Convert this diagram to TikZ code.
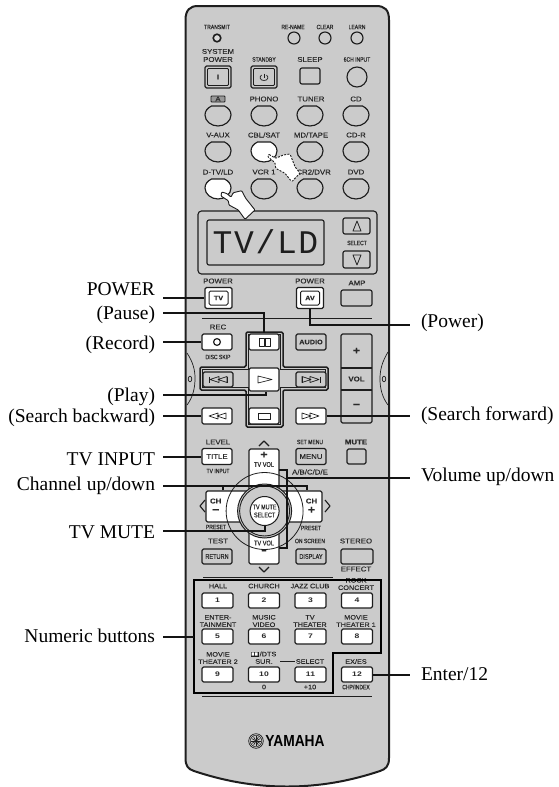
\documentclass[tikz,border=0pt]{standalone}
\usepackage{fontspec}
\setmainfont{Liberation Serif}
\newfontfamily\fw[FakeStretch=1.12,FakeBold=0.25]{Liberation Sans}
\newfontfamily\fc[FakeStretch=0.8,FakeBold=0.25]{Liberation Sans}
\newfontfamily\fd[FakeStretch=1.3]{Liberation Sans}
\newfontfamily\fy[FakeStretch=0.86]{Liberation Sans}
\newfontfamily\fm[LetterSpace=5]{Liberation Mono}
\definecolor{bodyc}{HTML}{CBCBCB}
\definecolor{linec}{HTML}{1E1E1E}
\definecolor{txt}{HTML}{2A2A2A}
\newcounter{nd}
\tikzset{
  x=1pt,y=-1pt,
  ln/.style={draw=linec,line width=1.15pt,line join=round},
  lead/.style={draw=black!92,line width=2pt},
  icn/.style={draw=linec,line width=.7pt,line join=round},
  labw/.style={inner sep=0pt,text=txt,font=\fw\fontsize{7}{7.5}\selectfont,align=center},
  labn/.style={inner sep=0pt,text=txt,font=\fw\fontsize{6.5}{7.4}\selectfont,align=center},
  labc/.style={inner sep=0pt,text=txt,font=\fc\fontsize{6.3}{7}\selectfont,align=center},
  btn/.style={ln,fill=white,rounded corners=1.5pt,inner sep=0pt,text=txt,align=center,font=\fw\fontsize{7}{7.5}\selectfont},
  gbtn/.style={btn,fill=bodyc},
  cbtn/.style={btn,font=\fc\fontsize{7}{8}\selectfont},
  numb/.style={btn,minimum width=31pt,minimum height=15pt,font=\fd\bfseries\fontsize{6.6}{7}\selectfont},
  capt/.style={text=black,font=\fontsize{19.5}{20}\selectfont,text height=13pt,text depth=4pt,inner ysep=0pt},
  captl/.style={capt,anchor=base east,inner xsep=8pt,outer sep=0pt},
  captr/.style={capt,anchor=base west,inner xsep=11pt,outer sep=0pt},
}
\newcommand\LW[3]{\stepcounter{nd}\node[labw] (nw\thend) at (#1,#2) {#3};}
\newcommand\LN[3]{\stepcounter{nd}\node[labn] (nn\thend) at (#1,#2) {#3};}
\newcommand\LC[3]{\stepcounter{nd}\node[labc] (nc\thend) at (#1,#2) {#3};}
\newcommand\CUPB[3]{\draw[ln,fill=#3] (#1-6.5,#2) -- (#1+6.5,#2) .. controls (#1+10.5,#2+2) and (#1+13,#2+5) .. (#1+13,#2+9) .. controls (#1+13,#2+15) and (#1+7,#2+20) .. (#1,#2+20) .. controls (#1-7,#2+20) and (#1-13,#2+15) .. (#1-13,#2+9) .. controls (#1-13,#2+5) and (#1-10.5,#2+2) .. cycle;}
\newcommand\TL[2]{\draw[icn] (#1,#2) -- (#1+9,#2-3) -- (#1+9,#2+3) -- cycle;}
\newcommand\TR[2]{\draw[icn] (#1+9,#2) -- (#1,#2-3) -- (#1,#2+3) -- cycle;}
\begin{document}
\begin{tikzpicture}
\useasboundingbox (0,0) rectangle (559,787);
% body
\draw[draw=linec,line width=2pt,fill=bodyc] (185.5,20) .. controls (185.5,10) and (190,6) .. (198,6) -- (376,6) .. controls (385,6) and (389,10) .. (389,20) -- (389,758) .. controls (389,766) and (386,769) .. (380,771) .. controls (350,781) and (320,786.5) .. (287,786.5) .. controls (254,786.5) and (224,781) .. (194,771) .. controls (188,769) and (185.5,766) .. (185.5,758) -- cycle;
% side grips
\draw[draw=linec,line width=.7pt] (187,353) .. controls (193,362) and (195,370) .. (195,378) .. controls (195,388) and (193,397) .. (187,405);
\draw[draw=linec,line width=.7pt] (388,352) .. controls (382,362) and (380,370) .. (380,379) .. controls (380,388) and (382,397) .. (388,405);
\draw[icn] (190,379) ellipse (1.8pt and 2.8pt);
\draw[icn] (384,379) ellipse (1.8pt and 2.8pt);
% top row
\LC{217}{27}{TRANSMIT}\LC{293}{27}{RE-NAME}\LC{325}{27}{CLEAR}\LC{357}{27}{LEARN}
\draw[draw=linec,line width=1.6pt,fill=bodyc!70] (217,38) circle (3.8pt);
\foreach \x in {294,325,357} \draw[ln] (\x,38) circle (6pt);
% power row
\LW{218}{51.5}{SYSTEM}\LW{218}{59.5}{POWER}\LC{264}{59.5}{STANDBY}\LW{310}{59.5}{SLEEP}\LC{357}{59.5}{6CH INPUT}
\draw[ln,rounded corners=1.5pt] (205,66) rectangle (231,88);
\draw[ln,line width=.8pt,rounded corners=1pt] (207.5,68.5) rectangle (228.5,85.5);
\LW{218}{77}{\bfseries I}
\draw[ln,rounded corners=1.5pt] (251,66) rectangle (277,88);
\draw[ln,line width=.8pt,rounded corners=1pt] (253.5,68.5) rectangle (274.5,85.5);
\draw[icn] (261.5,75) .. controls (259,77) and (260,80.5) .. (264,80.5) .. controls (268,80.5) and (269,77) .. (266.5,75);
\draw[icn] (264,73.5) -- (264,77.5);
\draw[ln,rounded corners=2pt] (300,68) rectangle (320,84);
\draw[ln] (357,77) circle (10pt);
% input selector rows
\draw[ln,line width=.8pt,rounded corners=.8pt,fill=bodyc!75!black] (211,96) rectangle (225,102);
\LW{218}{99}{A}\LW{264}{99}{PHONO}\LW{311}{99}{TUNER}\LW{356}{99}{CD}
\CUPB{218}{106}{bodyc}\CUPB{264}{106}{bodyc}\CUPB{310}{106}{bodyc}\CUPB{356}{106}{bodyc}
\LW{218}{135}{V-AUX}\LW{264}{135}{CBL/SAT}\LW{311}{135}{MD/TAPE}\LW{356}{135}{CD-R}
\CUPB{218}{142}{bodyc}\CUPB{264}{142}{white}\CUPB{310}{142}{bodyc}\CUPB{356}{142}{bodyc}
\LW{218}{172}{D-TV/LD}\LW{264}{172}{VCR 1}\LW{311}{172}{VCR2/DVR}\LW{356}{172}{DVD}
\CUPB{218}{179}{white}\CUPB{264}{179}{bodyc}\CUPB{310}{179}{bodyc}\CUPB{356}{179}{bodyc}
% display
\draw[ln,rounded corners=3.5pt] (198,211) rectangle (377,274);
\draw[ln,rounded corners=2pt] (207,220) rectangle (324,265);
\stepcounter{nd}\node[inner sep=0pt,text=linec,font=\fm\fontsize{33}{33}\selectfont] (dispt) at (265.5,241.5) {TV/LD};
\draw[ln,rounded corners=2pt] (343,218) rectangle (370,234);
\draw[icn,line width=.8pt] (353,231) -- (361,231) -- (357,221) -- cycle;
\LC{357}{243}{SELECT}
\draw[ln,rounded corners=2pt] (343,251) rectangle (370,268);
\draw[icn,line width=.8pt] (353,255) -- (361,255) -- (357,265) -- cycle;
% hands
\draw[ln,fill=white,dash pattern=on 2pt off 1.3pt,line width=.9pt,rounded corners=1pt] (268.3,154) -- (275.7,158.3) -- (283.3,155) -- (290,154) -- (295,166.7) -- (300,173.3) -- (291.7,181.7) -- (285,173.3) -- (275.7,168.3) -- (275,162.7) -- (267.7,156.7) -- cycle;
\draw[ln,fill=white,line width=.9pt,rounded corners=.8pt] (221.7,192) -- (226.7,193.5) -- (231,197) -- (233.3,192.7) -- (241.7,190.7) -- (245.7,198.3) -- (255,210) -- (245,219.3) -- (238.3,210) -- (229,205) -- (228.3,200.7) -- (221,196) -- cycle;
% power buttons
\LW{218}{281}{POWER}\LW{310}{281}{POWER}\LW{357}{283}{AMP}
\node[btn,line width=1.3pt,minimum width=27pt,minimum height=21pt] (pwrtvo) at (218.5,298) {};
\node[btn,line width=1pt,minimum width=19pt,minimum height=14pt,font=\fw\bfseries\fontsize{6.5}{7}\selectfont] (pwrtv) at (218.5,298) {TV};
\node[btn,line width=1.3pt,minimum width=27pt,minimum height=21pt] (pwravo) at (310,298) {};
\node[btn,line width=1pt,minimum width=19pt,minimum height=14pt,font=\fw\bfseries\fontsize{6.5}{7}\selectfont] (pwrav) at (310,298) {AV};
\draw[ln,rounded corners=2pt] (341,290) rectangle (372,306);
\draw[draw=linec,line width=.9pt] (202,318) -- (372,318);
% transport cross
\LW{218}{327}{REC}\LC{218}{357}{DISC SKIP}
\node[btn,minimum width=30pt,minimum height=16pt] (recbtn) at (217,342) {};
\draw[draw=linec,line width=1.2pt] (recbtn.center) circle (3.4pt);
\draw[draw=linec,line width=1.5pt,fill=bodyc,rounded corners=1.5pt] (246,332) -- (283,332) -- (283,367) -- (328,367) -- (328,390) -- (283,390) -- (283,427) -- (246,427) -- (246,390) -- (200,390) -- (200,367) -- (246,367) -- cycle;
\draw[draw=linec,line width=.7pt] (248.5,334.5) -- (280.5,334.5) -- (280.5,369.5) -- (325.5,369.5) -- (325.5,387.5) -- (280.5,387.5) -- (280.5,424.5) -- (248.5,424.5) -- (248.5,387.5) -- (202.5,387.5) -- (202.5,369.5) -- (248.5,369.5) -- cycle;
\node[btn,minimum width=30pt,minimum height=16pt] (pausebtn) at (264,342) {};
\draw[icn] (259,338) rectangle (264,346) (265,338) rectangle (270,346);
\node[gbtn,minimum width=30pt,minimum height=15pt] (skipl) at (218,379.5) {};
\draw[icn] (209,376.5) -- (209,382.5) (209,379.5) -- (212,379.5);
\TL{210}{379.5}\TL{218}{379.5}\draw[icn] (227,376.5) -- (227,382.5);
\node[gbtn,minimum width=30pt,minimum height=15pt] (skipr) at (311,379.5) {};
\draw[icn] (302,376.5) -- (302,382.5);
\TR{302}{379.5}\TR{310}{379.5}\draw[icn] (320,376.5) -- (320,382.5);
\node[btn,minimum width=30pt,minimum height=23pt] (playbtn) at (264,379.5) {};
\draw[icn] (258,376) -- (272,379.5) -- (258,383) -- cycle;
\node[btn,minimum width=30pt,minimum height=16pt] (stopbtn) at (264,416) {};
\draw[icn] (258,413) rectangle (270,419);
\node[btn,minimum width=30pt,minimum height=16pt] (rewbtn) at (217,416) {};
\TL{209}{416}\TL{217}{416}
\node[btn,minimum width=30pt,minimum height=16pt] (fwdbtn) at (311,416) {};
\TR{302}{416}\TR{310}{416}
\node[gbtn,minimum width=30pt,minimum height=16pt,font=\fw\bfseries\fontsize{6.5}{7}\selectfont] (audiobtn) at (311,342) {AUDIO};
% volume
\draw[ln,rounded corners=1.5pt] (341,334) rectangle (372,423);
\draw[ln] (341,368) -- (372,368) (341,390) -- (372,390);
\LW{356.5}{351}{\fontsize{11}{11}\selectfont\bfseries +}\LW{356.5}{379}{\bfseries VOL}\LW{356.5}{406}{\fontsize{11}{11}\selectfont\bfseries −}
% menu rows
\LW{218}{442}{LEVEL}\LC{310}{442}{SET MENU}\LW{356}{442}{\bfseries MUTE}
\node[btn,minimum width=30pt,minimum height=16pt] (titlebtn) at (217,456.5) {TITLE};
\LC{218}{471}{TV INPUT}
\node[gbtn,minimum width=30pt,minimum height=16pt] (menubtn) at (311,456.5) {MENU};
\LW{310}{472}{A/B/C/D/E}
\draw[ln,rounded corners=1.5pt] (347,449) rectangle (366,464);
% ring
\draw[ln,fill=white,rounded corners=1.5pt] (249,449) rectangle (279,492);
\draw[ln,fill=white,rounded corners=1.5pt] (249,530.5) rectangle (279,564);
\draw[ln,fill=white,rounded corners=1.5pt] (206,491) rectangle (248,522);
\draw[ln,fill=white,rounded corners=1.5pt] (281,491) rectangle (322,522);
\draw[draw=linec,line width=1pt,fill=bodyc] (264.6,511) circle (27pt);
\draw[draw=linec,line width=.9pt] (264.6,511) circle (25pt);
\draw[draw=linec,line width=.8pt] (264.6,511) circle (38.5pt);
\node[draw=linec,line width=1pt,circle,fill=white,minimum size=29pt,inner sep=0pt,text=txt,align=center,font=\fc\fontsize{6.8}{8}\selectfont] (tvmute) at (264.6,511) {TV MUTE\\SELECT};
\node[minimum width=30pt,minimum height=42pt,inner sep=0pt] (volplus) at (264,470) {};
\LW{264}{455}{\fontsize{11}{11}\selectfont\bfseries +}\LC{264}{464.5}{\fontsize{7}{8}\selectfont TV VOL}
\node[minimum width=30pt,minimum height=33pt,inner sep=0pt,text=txt,align=center,font=\fc\fontsize{7}{9}\selectfont] (volminus) at (264,547.5) {TV VOL\\\fontsize{11}{9}\selectfont\bfseries −};
\node[minimum width=34pt,minimum height=31pt,inner sep=0pt,text=txt,align=center,font=\fw\bfseries\fontsize{7}{10}\selectfont] (chminus) at (223,506) {\hspace{-13pt}CH\\\hspace{-13pt}\fontsize{11}{9}\selectfont −};
\node[minimum width=31pt,minimum height=31pt,inner sep=0pt,text=txt,align=center,font=\fw\bfseries\fontsize{7}{10}\selectfont] (chplus) at (306.5,506) {\hspace{10pt}CH\\\hspace{10pt}\fontsize{11}{9}\selectfont +};
\draw[ln] (259,446) -- (264,441) -- (269,446) (205,500) -- (200,506) -- (205,512) (325,500) -- (330,506) -- (325,512) (259,567) -- (264,572) -- (269,567);
\LC{216}{527}{PRESET}\LC{311}{528}{PRESET}
% lower rows
\LW{218}{541}{TEST}\LC{310}{541}{ON SCREEN}\LW{356}{541}{STEREO}
\node[gbtn,font=\fc\fontsize{7}{8}\selectfont,minimum width=30pt,minimum height=15pt] (retbtn) at (217,556.5) {RETURN};
\node[gbtn,font=\fc\fontsize{7}{8}\selectfont,minimum width=30pt,minimum height=15pt] (dispbtn) at (311,556.5) {DISPLAY};
\draw[ln,rounded corners=1.5pt] (341,549) rectangle (373,564);
\LW{356}{569}{EFFECT}
\draw[draw=linec,line width=.9pt] (203,577) -- (333,577);
% numeric block
\LN{218}{586}{HALL}\LN{264}{586}{CHURCH}\LN{310}{586}{JAZZ CLUB}\LN{356}{584}{ROCK\\CONCERT}
\LN{218}{621}{ENTER-\\TAINMENT}\LN{264}{621}{MUSIC\\VIDEO}\LN{310}{621}{TV\\THEATER}\LN{356}{621}{MOVIE\\THEATER 1}
\LN{218}{658}{MOVIE\\THEATER 2}\LN{268}{654}{/DTS}\LN{264}{661.5}{SUR.}\LN{310}{661.5}{SELECT}\LN{356}{661.5}{EX/ES}
\fill[linec] (250.5,651.5) rectangle (258.5,656.5);
\fill[white] (251.5,652.3) rectangle (254,655.7) (255,652.3) rectangle (257.5,655.7);
\draw[draw=linec,line width=.9pt] (280,661) -- (295,661);
\node[numb] (b1) at (217.5,600.5) {1};
\node[numb] (b2) at (264,600.5) {2};
\node[numb] (b3) at (310.5,600.5) {3};
\node[numb] (b4) at (357,600.5) {4};
\node[numb] (b5) at (217.5,636.5) {5};
\node[numb] (b6) at (264,636.5) {6};
\node[numb] (b7) at (310.5,636.5) {7};
\node[numb] (b8) at (357,636.5) {8};
\node[numb] (b9) at (217.5,674.5) {9};
\node[numb] (b10) at (264,674.5) {10};
\node[numb] (b11) at (310.5,674.5) {11};
\node[numb] (b12) at (357,674.5) {12};
\LN{264}{687}{0}\LN{310}{687}{+10}\LC{356}{687}{CHP/INDEX}
\draw[draw=black,line width=2pt,line join=miter] (194,580) -- (381,580) -- (381,653) -- (333,653) -- (333,693) -- (194,693) -- cycle;
\draw[draw=linec,line width=.9pt] (202,696) -- (372,696);
% logo
\draw[draw=linec,line width=.7pt] (256,741) circle (7.3pt);
\draw[draw=linec,line width=.5pt] (256,741) circle (5.8pt);
\foreach \a in {0,30,...,330} \draw[draw=linec,line width=.6pt] (256,741) -- ++(\a:5pt);
\stepcounter{nd}\node[inner sep=0pt,text=black,font=\fy\bfseries\fontsize{16}{16}\selectfont] (yam) at (295,741) {YAMAHA};
% captions
\node[captl] (lpower) at (163,295) {POWER};
\node[captl] (lpause) at (163,319) {(Pause)};
\node[captl] (lrec) at (163,349) {(Record)};
\node[captl] (lplay) at (163,401.5) {(Play)};
\node[captl] (lrew) at (163,422.5) {(Search backward)};
\node[captl] (lti) at (163,465) {TV INPUT};
\node[captl] (lch) at (163,490) {Channel up/down};
\node[captl] (lmute) at (163,538) {TV MUTE};
\node[captl] (lnum) at (163,642) {Numeric buttons};
\node[captr] (lpow) at (410,327.5) {(Power)};
\node[captr] (lfwd) at (410,420.5) {(Search forward)};
\node[captr] (lvol) at (410,481.5) {Volume up/down};
\node[captr] (lent) at (410,680) {Enter/12};
% connector joints
\coordinate (jpause) at (163,312.7);
\coordinate (jplay) at (266,395.3);
\coordinate (jch) at (163,485.7);
\coordinate (jmute) at (163,530.5);
\coordinate (jnum) at (194,637);
\coordinate (jpow) at (410,324.8);
\coordinate (jvol) at (286.5,477.5);
% connectors
\draw[lead] (lpower.east |- pwrtvo.west) -- (pwrtvo.west);
\draw[lead] (lpause.east |- jpause) -| (pausebtn.north);
\draw[lead] (lrec.east |- recbtn.west) -- (recbtn.west);
\draw[lead] (lplay.east |- jplay) -- (jplay) -- (jplay |- playbtn.south);
\draw[lead] (lrew.east |- rewbtn.west) -- (rewbtn.west);
\draw[lead] (lti.east |- titlebtn.west) -- (titlebtn.west);
\draw[lead] (lch.east |- jch) -| (chplus.north);
\draw[lead] (chminus.north) -- (chminus.north |- jch);
\draw[lead] (lmute.east |- jmute) -| (tvmute.south);
\draw[lead] (lnum.east |- jnum) -- (jnum);
\draw[lead] (pwravo.south) |- (lpow.west |- jpow);
\draw[lead] (fwdbtn.east) -- (lfwd.west |- fwdbtn.east);
\draw[lead] (volplus.east) -| (jvol |- volminus.east) -- (volminus.east);
\draw[lead] (jvol) -- (lvol.west |- jvol);
\draw[lead] (b12.east) -- (lent.west |- b12.east);
\end{tikzpicture}
\end{document}
